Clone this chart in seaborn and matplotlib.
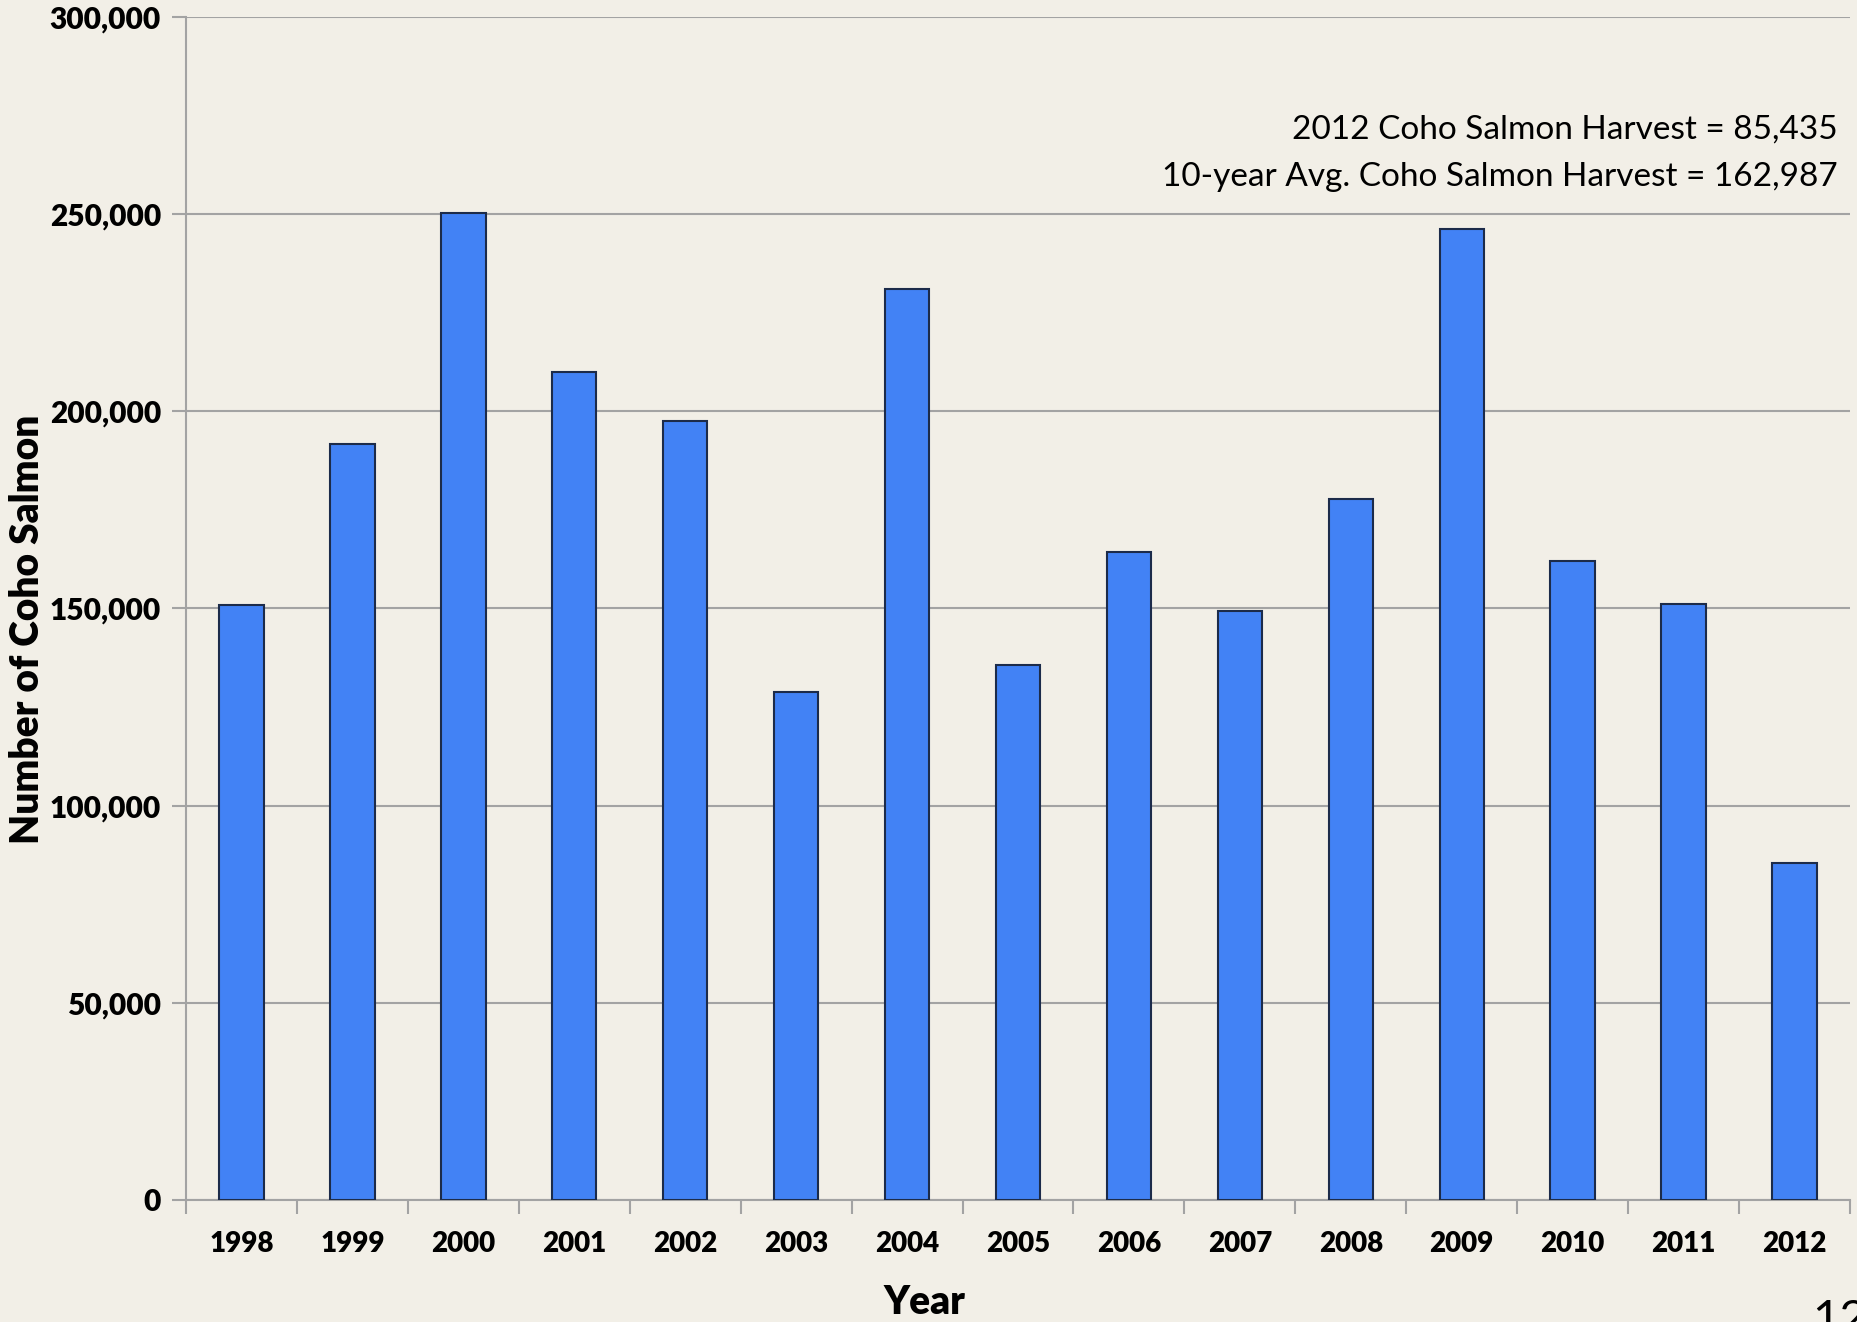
import matplotlib
matplotlib.use("Agg")
import matplotlib.pyplot as plt
import seaborn as sns
import pandas as pd
import numpy as np
from matplotlib.ticker import FuncFormatter, FixedLocator

years = ["1998", "1999", "2000", "2001", "2002", "2003", "2004", "2005",
         "2006", "2007", "2008", "2009", "2010", "2011", "2012"]
harvest = [150800, 191600, 250100, 209900, 197600, 128800, 230900, 135700,
           164300, 149200, 177800, 246200, 161900, 151000, 85435]
y_ticks = [0, 50000, 100000, 150000, 200000, 250000, 300000]
note_lines = ["2012 Coho Salmon Harvest = 85,435",
              "10-year Avg. Coho Salmon Harvest = 162,987"]

bg = "#F2EFE7"
bar_color = "#4282F5"
grid_color = "#A3A3A3"

sns.set_theme(style="white")
plt.rcParams["font.family"] = ["Lato", "DejaVu Sans"]
plt.rcParams["text.color"] = "black"

data = pd.DataFrame({"Year": years, "Harvest": harvest})

fig = plt.figure(figsize=(18.58, 13.22), dpi=100, facecolor=bg)
ax = fig.add_axes([0.1001, 0.0923, 0.8956, 0.8951])
ax.set_facecolor(bg)

sns.barplot(data=data, x="Year", y="Harvest", color=bar_color, width=0.4,
            edgecolor="#1C2B4A", linewidth=1.5, saturation=1, ax=ax, zorder=3)

ax.set_ylim(0, 300000)
ax.set_xlim(-0.5, len(years) - 0.5)
ax.yaxis.set_major_locator(FixedLocator(y_ticks))
ax.yaxis.set_major_formatter(FuncFormatter(lambda v, p: f"{int(v):,}"))
ax.yaxis.grid(True, color=grid_color, linewidth=1.5, zorder=0)
ax.set_axisbelow(True)

# category boundary ticks, labels at centres (Excel style)
ax.set_xticks(np.arange(-0.5, len(years), 1.0))
ax.set_xticklabels([])
ax.set_xticks(np.arange(len(years)), minor=True)
ax.set_xticklabels(years, minor=True, fontsize=20, fontweight="heavy")
ax.tick_params(axis="x", which="major", direction="out", length=10, width=1.5,
               color=grid_color, bottom=True)
ax.tick_params(axis="x", which="minor", length=0, pad=22, labelcolor="black")
ax.tick_params(axis="y", direction="out", length=10, width=1.5,
               color=grid_color, left=True, labelsize=21.5, pad=8,
               labelcolor="black")
for lab in ax.get_yticklabels():
    lab.set_fontweight("heavy")

for s in ["top", "right"]:
    ax.spines[s].set_visible(False)
for s in ["left", "bottom"]:
    ax.spines[s].set_color(grid_color)
    ax.spines[s].set_linewidth(1.5)

ax.set_xlabel("")
ax.set_ylabel("")
fig.text(28 / 1858, 1 - 629 / 1322, "Number of Coho Salmon", rotation=90,
         ha="center", va="center", fontsize=28, fontweight="heavy")
fig.text(924 / 1858, 1 - 1303 / 1322, "Year", ha="center", va="center",
         fontsize=28, fontweight="heavy")

ax.text(0.9925, 0.9045, note_lines[0], transform=ax.transAxes, ha="right",
        va="center", fontsize=24)
ax.text(0.9925, 0.8648, note_lines[1], transform=ax.transAxes, ha="right",
        va="center", fontsize=24)

fig.text(1812 / 1858, -0.014, "12", ha="left", va="bottom", fontsize=34)

fig.savefig("out.png", dpi=100, facecolor=bg)
